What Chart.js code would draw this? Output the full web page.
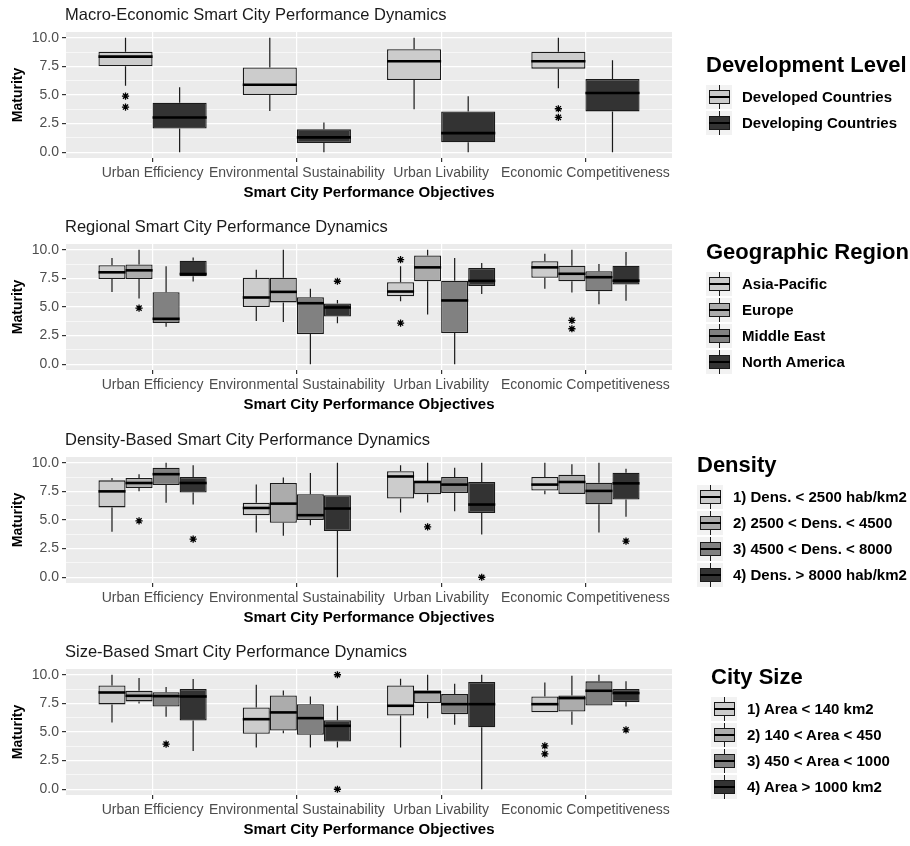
<!DOCTYPE html>
<html><head><meta charset="utf-8">
<script src="https://cdn.jsdelivr.net/npm/chart.js@4.4.1/dist/chart.umd.min.js"></script>
<style>
html,body{margin:0;padding:0;background:#fff;width:910px;height:846px;overflow:hidden;font-family:'Liberation Sans',Arial,sans-serif;}
.panel{position:absolute;left:0;width:910px;height:211px;}
.panel canvas{position:absolute;left:0;top:0;}
.ptitle{position:absolute;left:65px;top:4px;font-size:16.5px;line-height:20px;color:#1a1a1a;white-space:nowrap;}
.legend{position:absolute;top:0;}
.ltitle{position:absolute;left:0;font-weight:bold;font-size:22px;line-height:26px;color:#000;white-space:nowrap;}
.litem{position:absolute;left:0;height:24px;width:220px;}
.key{position:absolute;left:0;top:0;width:26px;height:24px;background:#F2F2F2;}
.key .wh{position:absolute;left:12.5px;top:0;width:1.2px;height:24px;background:#1a1a1a;}
.key .bx{position:absolute;left:3px;top:5px;width:19px;height:12px;border:1px solid #1a1a1a;}
.key .md{position:absolute;left:3px;top:11px;width:21px;height:2px;background:#000;}
.lab{position:absolute;left:36px;top:3px;font-weight:bold;font-size:15px;line-height:18px;color:#000;white-space:nowrap;}
</style></head>
<body>
<div id="root"></div>
<script>
// ---------- shared axis data ----------
const objectives = ['Urban Efficiency', 'Environmental Sustainability', 'Urban Livability', 'Economic Competitiveness'];
const yTicks = [0, 2.5, 5, 7.5, 10];
const yMinorTicks = [1.25, 3.75, 6.25, 8.75];
const xAxisTitle = 'Smart City Performance Objectives';
const yAxisTitle = 'Maturity';

// each stats entry: [lower whisker, Q1, median, Q3, upper whisker] per objective
// ---------- panel 1: development level ----------
const devTitle = 'Macro-Economic Smart City Performance Dynamics';
const devLegendTitle = 'Development Level';
const devGroups = ['Developed Countries', 'Developing Countries'];
const developedStats = [[5.8, 7.5, 8.35, 8.77, 10], [3.6, 5.0, 5.9, 7.4, 10], [3.75, 6.3, 7.95, 9.0, 10], [5.6, 7.3, 7.95, 8.77, 10]];
const developedOutliers = [[4.9, 3.95], [], [], [3.8, 3.05]];
const developingStats = [[0, 2.08, 3.04, 4.33, 5.67], [0, 0.8, 1.3, 2.0, 2.6], [0, 0.88, 1.67, 3.57, 4.88], [0, 3.57, 5.18, 6.4, 8.04]];
const developingOutliers = [[], [], [], []];

// ---------- panel 2: geographic region ----------
const regionTitle = 'Regional Smart City Performance Dynamics';
const regionLegendTitle = 'Geographic Region';
const regionGroups = ['Asia-Pacific', 'Europe', 'Middle East', 'North America'];
const asiaPacificStats = [[6.3, 7.45, 8.03, 8.64, 9.28], [3.77, 5.0, 5.83, 7.55, 8.26], [5.5, 5.94, 6.35, 7.16, 8.55], [6.6, 7.55, 8.46, 9.0, 9.65]];
const asiaPacificOutliers = [[], [], [9.13, 3.6], []];
const europeStats = [[5.75, 7.45, 8.2, 8.72, 10], [3.68, 5.4, 6.32, 7.55, 10], [4.35, 7.25, 8.46, 9.5, 10], [6.26, 7.25, 7.9, 8.6, 10]];
const europeOutliers = [[4.9], [], [], [3.83, 3.1]];
const middleEastStats = [[3.28, 3.6, 3.97, 6.29, 8.55], [0, 2.64, 5.33, 5.86, 6.6], [0, 2.72, 5.57, 7.3, 9.28], [5.25, 6.38, 7.6, 8.12, 8.75]];
const middleEastOutliers = [[], [], [], []];
const northAmericaStats = [[7.22, 7.68, 7.88, 9.04, 9.33], [3.59, 4.17, 4.96, 5.3, 5.62], [6.14, 6.84, 7.28, 8.41, 8.84], [5.54, 6.96, 7.3, 8.61, 9.8]];
const northAmericaOutliers = [[], [7.25], [], []];

// ---------- panel 3: density ----------
const densityTitle = 'Density-Based Smart City Performance Dynamics';
const densityLegendTitle = 'Density';
const densityGroups = ['1) Dens. < 2500 hab/km2', '2) 2500 < Dens. < 4500', '3) 4500 < Dens. < 8000', '4) Dens. > 8000 hab/km2'];
const dens1Stats = [[3.97, 6.1, 7.5, 8.46, 8.67], [3.9, 5.42, 6.05, 6.5, 8.1], [5.65, 6.87, 8.8, 9.25, 9.77], [7.25, 7.57, 8.09, 8.75, 10]];
const dens1Outliers = [[], [], [], []];
const dens2Stats = [[7.5, 7.8, 8.23, 8.67, 9.0], [3.62, 4.75, 6.43, 8.23, 8.7], [6.52, 7.25, 8.32, 8.41, 10], [7.28, 7.28, 8.32, 8.96, 9.86]];
const dens2Outliers = [[4.93], [], [4.4], []];
const dens3Stats = [[6.5, 8.06, 9.0, 9.57, 10], [4.55, 5.0, 5.42, 7.25, 9.1], [5.77, 7.36, 8.09, 8.75, 9.57], [3.9, 6.38, 7.54, 8.26, 10]];
const dens3Outliers = [[], [], [], []];
const dens4Stats = [[6.35, 7.39, 8.23, 8.75, 9.77], [0, 4.03, 6.0, 7.16, 10], [3.74, 5.62, 6.35, 8.32, 10], [5.28, 6.78, 8.2, 9.13, 9.48]];
const dens4Outliers = [[3.33], [], [0], [3.16]];

// ---------- panel 4: city size ----------
const sizeTitle = 'Size-Based Smart City Performance Dynamics';
const sizeLegendTitle = 'City Size';
const sizeGroups = ['1) Area < 140 km2', '2) 140 < Area < 450', '3) 450 < Area < 1000', '4) Area > 1000 km2'];
const size1Stats = [[5.83, 7.41, 8.45, 9.07, 10], [3.64, 4.84, 6.12, 7.14, 9.13], [3.64, 6.44, 7.29, 9.07, 9.65], [6.73, 6.73, 7.43, 8.1, 9.33]];
const size1Outliers = [[], [], [], [3.79, 3.09]];
const size2Stats = [[7.49, 7.67, 8.16, 8.6, 9.71], [4.9, 5.13, 6.71, 8.19, 8.63], [6.21, 7.52, 8.48, 8.63, 10], [5.63, 6.79, 7.96, 8.19, 9.91]];
const size2Outliers = [[], [], [], []];
const size3Stats = [[6.33, 7.23, 8.13, 8.48, 8.92], [3.64, 4.75, 6.21, 7.43, 8.1], [5.63, 6.56, 7.43, 8.31, 9.21], [7.32, 7.32, 8.6, 9.42, 10]];
const size3Outliers = [[3.94], [], [], []];
const size4Stats = [[3.35, 6.0, 8.1, 8.75, 9.62], [3.64, 4.17, 5.54, 6.03, 7.29], [0, 5.42, 7.43, 9.36, 10], [7.23, 7.61, 8.4, 8.75, 9.42]];
const size4Outliers = [[], [10, 0], [], [5.19]];

const grey2 = ['#CCCCCC', '#333333'];
const grey4 = ['#CCCCCC', '#ACACAC', '#818181', '#333333'];

// ---------- rendering ----------
Chart.defaults.font.family = "'Liberation Sans', Arial, sans-serif";
Chart.defaults.animation = false;

const boxPlugin = {
  id: 'boxes',
  beforeDraw(chart) {
    const {ctx, chartArea: a} = chart;
    ctx.save();
    ctx.fillStyle = '#EBEBEB';
    ctx.fillRect(a.left, a.top, a.width, a.height);
    ctx.restore();
  },
  afterDatasetsDraw(chart) {
    const ctx = chart.ctx, ys = chart.scales.y;
    ctx.save();
    chart.data.datasets.forEach((ds, i) => {
      const meta = chart.getDatasetMeta(i);
      meta.data.forEach((el, j) => {
        const s = ds.stats[j];
        const x = el.x, w = el.width;
        ctx.strokeStyle = '#1a1a1a';
        ctx.lineWidth = 1.2;
        ctx.beginPath();
        ctx.moveTo(x, ys.getPixelForValue(s[3])); ctx.lineTo(x, ys.getPixelForValue(s[4]));
        ctx.moveTo(x, ys.getPixelForValue(s[1])); ctx.lineTo(x, ys.getPixelForValue(s[0]));
        ctx.stroke();
        const ym = ys.getPixelForValue(s[2]);
        ctx.strokeStyle = '#000';
        ctx.lineWidth = 2.6;
        ctx.beginPath(); ctx.moveTo(x - w / 2, ym); ctx.lineTo(x + w / 2, ym); ctx.stroke();
        ctx.lineWidth = 1.3;
        (ds.outliers[j] || []).forEach(v => {
          const py = ys.getPixelForValue(v), r = 3.6, d = r * 0.72;
          ctx.beginPath();
          ctx.moveTo(x - r, py); ctx.lineTo(x + r, py);
          ctx.moveTo(x, py - r); ctx.lineTo(x, py + r);
          ctx.moveTo(x - d, py - d); ctx.lineTo(x + d, py + d);
          ctx.moveTo(x - d, py + d); ctx.lineTo(x + d, py - d);
          ctx.stroke();
        });
      });
    });
    ctx.restore();
  }
};

function makePanel(top, title, legendTitle, groups, statsList, outList, colors, legendLeft) {
  const root = document.getElementById('root');
  const panel = document.createElement('div');
  panel.className = 'panel';
  panel.style.top = top + 'px';
  const canvas = document.createElement('canvas');
  canvas.width = 910; canvas.height = 211;
  panel.appendChild(canvas);
  const t = document.createElement('div');
  t.className = 'ptitle'; t.textContent = title;
  panel.appendChild(t);
  // legend
  const lg = document.createElement('div');
  lg.className = 'legend';
  lg.style.left = legendLeft + 'px';
  const n = groups.length;
  const titleCenter = n === 2 ? 65 : 40;
  const lt = document.createElement('div');
  lt.className = 'ltitle'; lt.textContent = legendTitle;
  lt.style.top = (titleCenter - 13) + 'px';
  lg.appendChild(lt);
  groups.forEach((g, i) => {
    const it = document.createElement('div');
    it.className = 'litem';
    it.style.top = (titleCenter + 32 - 12 + i * 26) + 'px';
    it.innerHTML = '<div class="key"><div class="wh"></div><div class="bx" style="background:' + colors[i] + '"></div><div class="md"></div></div><div class="lab"></div>';
    it.querySelector('.lab').textContent = g;
    lg.appendChild(it);
  });
  panel.appendChild(lg);
  root.appendChild(panel);

  const datasets = groups.map((g, i) => ({
    label: g,
    data: objectives.map((_, j) => ({x: j + 1, y: [statsList[i][j][1], statsList[i][j][3]]})),
    backgroundColor: colors[i],
    borderColor: '#1a1a1a',
    borderWidth: 1.3,
    borderSkipped: false,
    categoryPercentage: 0.75,
    barPercentage: 1.0,
    stats: statsList[i],
    outliers: outList[i]
  }));

  new Chart(canvas, {
    type: 'bar',
    data: {datasets},
    plugins: [boxPlugin],
    options: {
      responsive: false,
      animation: false,
      layout: {padding: {left: 0, right: 238, top: 32, bottom: 0}},
      plugins: {legend: {display: false}, tooltip: {enabled: false}, title: {display: false}},
      scales: {
        x: {
          type: 'linear', min: 0.4, max: 4.6, offset: false,
          afterBuildTicks: s => { s.ticks = objectives.map((_, i) => ({value: i + 1})); },
          afterFit: s => { s.height = 53; },
          ticks: {
            callback: v => objectives[Math.round(v) - 1] || '',
            autoSkip: false, maxRotation: 0, minRotation: 0,
            color: '#4D4D4D', font: {size: 14}, padding: 3
          },
          grid: {offset: false, color: '#FFFFFF', lineWidth: 1.2, tickColor: '#333333', tickLength: 4},
          border: {display: false},
          title: {display: true, text: xAxisTitle, color: '#000', font: {size: 15, weight: 'bold'}, padding: {top: 0, bottom: 9}}
        },
        y: {
          min: -0.5, max: 10.5,
          afterBuildTicks: s => { s.ticks = yTicks.concat(yMinorTicks).sort((a, b) => a - b).map(v => ({value: v})); },
          afterFit: s => { s.width = 66; },
          ticks: {
            callback: v => yTicks.includes(v) ? v.toFixed(1) : '',
            autoSkip: false, color: '#4D4D4D', font: {size: 14}, padding: 3
          },
          grid: {
            color: '#FFFFFF',
            lineWidth: c => (c.tick && yTicks.includes(c.tick.value)) ? 1.2 : 0.6,
            tickColor: c => (c.tick && yTicks.includes(c.tick.value)) ? '#333333' : 'rgba(0,0,0,0)',
            tickLength: 4
          },
          border: {display: false},
          title: {display: true, text: yAxisTitle, color: '#000', font: {size: 14, weight: 'bold'}, padding: {top: 10, bottom: 0}}
        }
      }
    }
  });
}

makePanel(0, devTitle, devLegendTitle, devGroups,
  [developedStats, developingStats], [developedOutliers, developingOutliers], grey2, 706);
makePanel(212, regionTitle, regionLegendTitle, regionGroups,
  [asiaPacificStats, europeStats, middleEastStats, northAmericaStats],
  [asiaPacificOutliers, europeOutliers, middleEastOutliers, northAmericaOutliers], grey4, 706);
makePanel(425, densityTitle, densityLegendTitle, densityGroups,
  [dens1Stats, dens2Stats, dens3Stats, dens4Stats],
  [dens1Outliers, dens2Outliers, dens3Outliers, dens4Outliers], grey4, 697);
makePanel(637, sizeTitle, sizeLegendTitle, sizeGroups,
  [size1Stats, size2Stats, size3Stats, size4Stats],
  [size1Outliers, size2Outliers, size3Outliers, size4Outliers], grey4, 711);
</script>
</body></html>
